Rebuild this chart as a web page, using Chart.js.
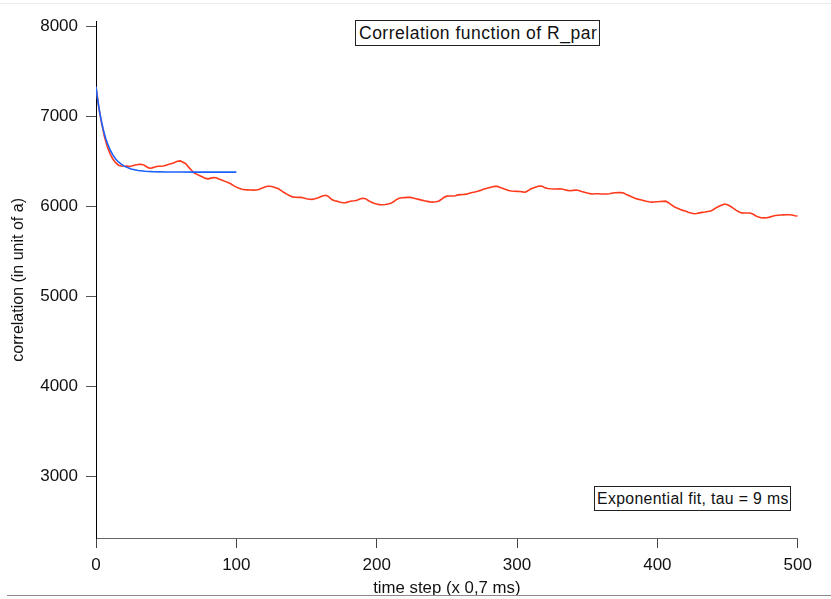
<!DOCTYPE html>
<html>
<head>
<meta charset="utf-8">
<script src="https://cdn.jsdelivr.net/npm/chart.js@4.4.1/dist/chart.umd.min.js"></script>
<style>
  html, body { margin: 0; padding: 0; background: #fff; }
  #wrap { position: relative; width: 831px; height: 599px; overflow: hidden; }
  #topline { position: absolute; left: 0; top: 3px; width: 831px; height: 1px; background: #ececec; }
  #botline { position: absolute; left: 7px; top: 595px; width: 824px; height: 1px; background: #8a8a8a; }
  .box { position: absolute; border: 1px solid #222; background: #fff; color: #111;
         font-family: "Liberation Sans", Arial, sans-serif; white-space: nowrap; box-sizing: border-box; }
  #titlebox { left: 355px; top: 20px; width: 245px; height: 26px; font-size: 17.5px; line-height: 24px;
              padding-left: 3px; letter-spacing: 0.5px; }
  #fitbox { left: 594px; top: 486px; width: 197px; height: 25px; font-size: 15.8px; line-height: 23px;
            padding-left: 2px; letter-spacing: 0.35px; }
</style>
</head>
<body>
<div id="wrap">
  <canvas id="myChart" width="831" height="599"></canvas>
  <div id="topline"></div>
  <div id="botline"></div>
  <div class="box" id="titlebox">Correlation function of R_par</div>
  <div class="box" id="fitbox">Exponential fit, tau = 9 ms</div>
</div>
<script>
// correlation of R_par, one value every 2 time steps (0..500)
const corrValues = [
  7333, 7100, 6930, 6780, 6670, 6590, 6530, 6490, 6462, 6452,
  6450, 6452, 6448, 6455, 6465, 6470, 6472, 6465, 6445, 6428,
  6432, 6442, 6450, 6450, 6452, 6462, 6472, 6480, 6492, 6505,
  6510, 6495, 6478, 6440, 6405, 6375, 6360, 6345, 6330, 6315,
  6310, 6318, 6325, 6320, 6305, 6295, 6282, 6270, 6255, 6235,
  6218, 6205, 6195, 6190, 6188, 6186, 6185, 6186, 6192, 6205,
  6218, 6228, 6228, 6222, 6212, 6200, 6180, 6158, 6140, 6122,
  6110, 6106, 6104, 6104, 6098, 6090, 6083, 6082, 6088, 6097,
  6110, 6122, 6127, 6110, 6080, 6066, 6060, 6050, 6045, 6046,
  6055, 6064, 6066, 6072, 6085, 6095, 6090, 6070, 6052, 6040,
  6030, 6024, 6022, 6025, 6030, 6038, 6055, 6080, 6095, 6100,
  6102, 6104, 6104, 6098, 6090, 6082, 6074, 6066, 6060, 6054,
  6052, 6055, 6062, 6080, 6105, 6118, 6120, 6119, 6122, 6132,
  6135, 6137, 6140, 6150, 6158, 6165, 6173, 6182, 6195, 6204,
  6212, 6220, 6226, 6226, 6215, 6204, 6192, 6180, 6175, 6172,
  6171, 6170, 6165, 6162, 6180, 6200, 6212, 6222, 6230, 6228,
  6210, 6203, 6200, 6198, 6198, 6200, 6198, 6190, 6182, 6178,
  6182, 6186, 6180, 6170, 6162, 6152, 6146, 6142, 6144, 6145,
  6141, 6141, 6142, 6145, 6152, 6156, 6157, 6157, 6152, 6135,
  6122, 6108, 6095, 6085, 6078, 6070, 6062, 6055, 6052, 6053,
  6056, 6058, 6060, 6062, 6045, 6020, 6000, 5985, 5972, 5960,
  5952, 5940, 5930, 5923, 5925, 5932, 5938, 5942, 5948, 5952,
  5970, 5990, 6005, 6020, 6030, 6022, 6005, 5985, 5962, 5945,
  5932, 5930, 5930, 5930, 5920, 5900, 5885, 5878, 5877, 5878,
  5885, 5895, 5903, 5906, 5908, 5910, 5911, 5912, 5908, 5900,
  5897
];
const corrSteps = corrValues.map((v, i) => i * 2);

// exponential fit, drawn up to step 100
const fitSteps = [0, 1, 2, 3, 4, 5, 6, 7, 8, 10, 12, 14, 16, 18, 20, 25, 30, 35, 40, 50, 60, 70, 80, 90, 100];
const fitValues = [7333, 7212, 7109, 7018, 6939, 6870, 6809, 6756, 6710, 6634, 6576, 6530, 6498, 6473, 6451,
  6419, 6402, 6394, 6390, 6387, 6386, 6385, 6385, 6385, 6385];

const xTicks = [0, 100, 200, 300, 400, 500];
const yTicks = [3000, 4000, 5000, 6000, 7000, 8000];

const FONT = "'Liberation Sans', Arial, sans-serif";
const ctx = document.getElementById("myChart");

new Chart(ctx, {
  type: "line",
  data: {
    datasets: [
      {
        label: "fit",
        data: fitSteps.map((t, i) => ({ x: t, y: fitValues[i] })),
        borderColor: "#1a62ff",
        borderWidth: 1.6,
        pointRadius: 0,
        order: 1,
      },
      {
        label: "R_par",
        data: corrSteps.map((t, i) => ({ x: t, y: corrValues[i] })),
        borderColor: "#ff3a1c",
        borderWidth: 1.6,
        pointRadius: 0,
        order: 2,
      },
    ],
  },
  options: {
    responsive: false,
    animation: false,
    layout: { padding: { top: 21.7, right: 33.3, left: 0, bottom: 0 } },
    plugins: { legend: { display: false }, tooltip: { enabled: false } },
    scales: {
      x: {
        type: "linear",
        min: 0,
        max: 500,
        afterBuildTicks: (s) => { s.ticks = xTicks.map((v) => ({ value: v })); },
        afterFit: (s) => { s.height = 61; },
        grid: { drawOnChartArea: false, tickLength: 10, color: "#444" },
        border: { color: "#666", width: 1 },
        ticks: { color: "#111", padding: 7, font: { family: FONT, size: 17 }, callback: (v) => String(v) },
        title: {
          display: true,
          text: "time step (x 0,7 ms)",
          color: "#111",
          font: { family: FONT, size: 16.8 },
          padding: { top: 0, bottom: 1 },
        },
      },
      y: {
        min: 2320,
        max: 8056,
        afterBuildTicks: (s) => { s.ticks = yTicks.map((v) => ({ value: v })); },
        afterFit: (s) => { s.width = 96; },
        grid: { drawOnChartArea: false, tickLength: 10, color: "#555" },
        border: { color: "#000", width: 1 },
        ticks: { color: "#111", padding: 8, font: { family: FONT, size: 17 }, callback: (v) => String(v) },
        title: {
          display: true,
          text: "correlation (in unit of a)",
          color: "#111",
          font: { family: FONT, size: 16 },
          padding: { top: 9, bottom: 0 },
        },
      },
    },
  },
});
</script>
</body>
</html>
